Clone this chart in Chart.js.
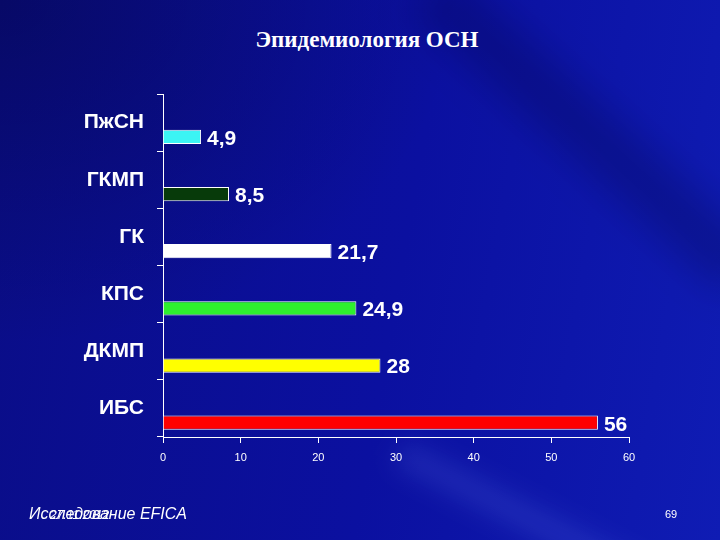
<!DOCTYPE html>
<html>
<head>
<meta charset="utf-8">
<script src="https://cdn.jsdelivr.net/npm/chart.js@4"></script>
<style>
    html, body { margin: 0; padding: 0; }
    body {
        width: 720px;
        height: 540px;
        overflow: hidden;
        position: relative;
        background:
            radial-gradient(ellipse at 0 0, rgba(0,0,30,0.30) 0%, rgba(0,0,0,0) 45%),
            linear-gradient(100deg, #0a0d86 0%, #0b10a0 55%, #0f1cb4 100%);
        font-family: "Liberation Sans", Arial, sans-serif;
        color: #fff;
    }
    .streak {
        position: absolute;
        left: 400px;
        top: 440px;
        width: 420px;
        height: 26px;
        background: rgba(120,150,255,0.16);
        filter: blur(12px);
        transform: rotate(27deg);
        transform-origin: 0 50%;
    }
    .shade {
        position: absolute;
        left: 430px;
        top: -40px;
        width: 420px;
        height: 60px;
        background: rgba(0,0,40,0.22);
        filter: blur(18px);
        transform: rotate(42deg);
        transform-origin: 0 50%;
    }
    #chart { position: absolute; left: 0; top: 0; }
    .title {
        position: absolute;
        top: 27px;
        left: 0;
        width: 734px;
        text-align: center;
        font: bold 23px "Liberation Serif", "Times New Roman", serif;
    }
    .footer {
        position: absolute;
        left: 29px;
        top: 505px;
        font: italic 16px "Liberation Sans", Arial, sans-serif;
    }
    .date {
        position: absolute;
        left: 50px;
        top: 508px;
        font: italic 12px "Liberation Sans", Arial, sans-serif;
    }
    .page {
        position: absolute;
        left: 665px;
        top: 508px;
        font: 11px "Liberation Sans", Arial, sans-serif;
    }
</style>
</head>
<body>
<div class="shade"></div>
<div class="streak"></div>
<div class="title">Эпидемиология ОСН</div>
<canvas id="chart" width="720" height="540"></canvas>
<div class="footer">Исследование EFICA</div>
<div class="date">27.11.2012</div>
<div class="page">69</div>

<script>
const categories = ['ПжСН', 'ГКМП', 'ГК', 'КПС', 'ДКМП', 'ИБС'];
const shares = [4.9, 8.5, 21.7, 24.9, 28, 56];
const barColors = ['#3cf4f4', '#073a0a', '#ffffff', '#2ef02e', '#ffff00', '#ff0000'];
const xTicks = [0, 10, 20, 30, 40, 50, 60];

const labelFont = 'bold 21px "Liberation Sans", Arial, sans-serif';

// подписи значений справа от полос, с запятой как в оригинале
const valueLabels = {
    id: 'valueLabels',
    afterDatasetsDraw(chart) {
        const ctx = chart.ctx;
        const meta = chart.getDatasetMeta(1);
        ctx.save();
        ctx.font = labelFont;
        ctx.fillStyle = '#ffffff';
        ctx.textBaseline = 'middle';
        meta.data.forEach((bar, i) => {
            ctx.fillText(String(shares[i]).replace('.', ','), bar.x + 6, bar.y + 2);
        });
        ctx.restore();
    }
};

new Chart(document.getElementById('chart'), {
    type: 'bar',
    data: {
        labels: categories,
        datasets: [
            {
                // пустой ряд: сдвигает полосы в нижнюю половину категории
                data: categories.map(() => null),
                backgroundColor: 'rgba(0,0,0,0)'
            },
            {
                data: shares,
                backgroundColor: barColors,
                borderColor: '#ffffff',
                borderWidth: 1
            }
        ]
    },
    options: {
        indexAxis: 'y',
        responsive: false,
        animation: false,
        categoryPercentage: 1,
        barPercentage: 0.5,
        layout: { padding: { top: 94, right: 91, left: 0, bottom: 0 } },
        plugins: {
            legend: { display: false },
            tooltip: { enabled: false }
        },
        scales: {
            y: {
                type: 'category',
                afterFit(scale) { scale.width = 163; },
                grid: {
                    offset: true,
                    drawOnChartArea: false,
                    color: '#ffffff',
                    tickLength: 6
                },
                border: { color: '#ffffff', width: 1 },
                ticks: {
                    color: '#ffffff',
                    font: { family: '"Liberation Sans", Arial, sans-serif', size: 21, weight: 'bold' },
                    padding: 13
                }
            },
            x: {
                min: 0,
                max: 60,
                afterFit(scale) { scale.height = 103; },
                afterBuildTicks(scale) {
                    scale.ticks = xTicks.map((v) => ({ value: v }));
                },
                grid: {
                    drawOnChartArea: false,
                    color: '#ffffff',
                    tickLength: 6
                },
                border: { color: '#ffffff', width: 1 },
                ticks: {
                    color: '#ffffff',
                    font: { family: '"Liberation Sans", Arial, sans-serif', size: 11 },
                    padding: 8
                }
            }
        }
    },
    plugins: [valueLabels]
});
</script>
</body>
</html>
